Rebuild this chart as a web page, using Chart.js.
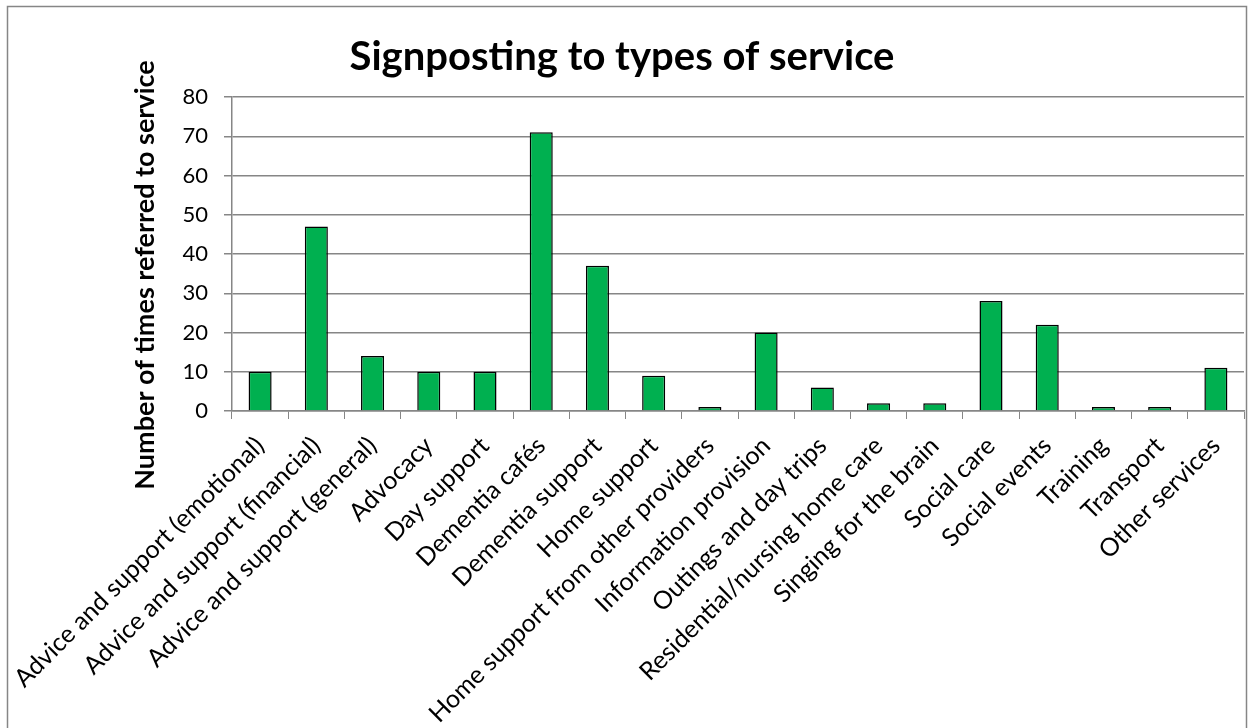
<!DOCTYPE html>
<html>
<head>
<meta charset="utf-8">
<script src="https://cdn.jsdelivr.net/npm/chart.js@4.4.0/dist/chart.umd.min.js"></script>
<style>
    html, body { margin: 0; padding: 0; background: #fff; }
    #wrap { width: 1250px; height: 728px; position: relative; }
</style>
</head>
<body>
<div id="wrap"><canvas id="serviceChart" width="1250" height="728"></canvas></div>
<script>
// Signposting chart data

const categories = [
    'Advice and support (emotional)',
    'Advice and support (financial)',
    'Advice and support (general)',
    'Advocacy',
    'Day support',
    'Dementia cafés',
    'Dementia support',
    'Home support',
    'Home support from other providers',
    'Information provision',
    'Outings and day trips',
    'Residential/nursing home care',
    'Singing for the brain',
    'Social care',
    'Social events',
    'Training',
    'Transport',
    'Other services'
];
const timesReferred = [10, 47, 14, 10, 10, 71, 37, 9, 1, 20, 6, 2, 2, 28, 22, 1, 1, 11];
const yTicks = [0, 10, 20, 30, 40, 50, 60, 70, 80];

const chartTitle = 'Signposting to types of service';
const yAxisTitle = 'Number of times referred to service';
const FONT = 'Lato, "Open Sans", sans-serif';

// frame + rotated y title drawn by hand
const framePlugin = {
    id: 'frame',
    beforeDraw(chart) {
        const ctx = chart.ctx;
        ctx.save();
        ctx.fillStyle = '#fff';
        ctx.fillRect(0, 0, chart.width, chart.height);
        ctx.strokeStyle = '#868686';
        ctx.lineWidth = 1.5;
        ctx.strokeRect(7.5, 6.5, 1239, 740);
        ctx.restore();
    },
    afterDraw(chart) {
        const ctx = chart.ctx;
        ctx.save();
        ctx.translate(145, 275);
        ctx.rotate(-Math.PI / 2);
        ctx.font = 'bold 27px ' + FONT;
        ctx.fillStyle = '#000';
        ctx.textAlign = 'center';
        ctx.textBaseline = 'middle';
        ctx.fillText(yAxisTitle, 0, 0);
        ctx.restore();
    }
};

new Chart(document.getElementById('serviceChart'), {
    type: 'bar',
    data: {
        labels: categories,
        datasets: [{
            data: timesReferred,
            backgroundColor: '#00B050',
            borderColor: '#000',
            borderWidth: 1.5,
            barPercentage: 0.41,
            categoryPercentage: 1
        }]
    },
    options: {
        responsive: false,
        animation: false,
        layout: { padding: { left: 0, right: 6, top: 0, bottom: 0 } },
        plugins: {
            legend: { display: false },
            tooltip: { enabled: false },
            title: {
                display: true,
                text: chartTitle,
                color: '#000',
                font: { family: FONT, size: 40, weight: 'bold', lineHeight: 1.2 },
                padding: { top: 33, bottom: 16 }
            }
        },
        scales: {
            x: {
                grid: {
                    drawOnChartArea: false,
                    drawTicks: true,
                    tickLength: 8,
                    color: '#868686'
                },
                border: { display: true, color: '#868686', width: 1.5 },
                ticks: {
                    color: '#000',
                    font: { family: FONT, size: 25 },
                    maxRotation: 45,
                    minRotation: 45,
                    autoSkip: false,
                    padding: 12
                },
                afterFit(scale) { scale.height = 317; }
            },
            y: {
                min: 0,
                max: 80,
                afterBuildTicks(scale) { scale.ticks = yTicks.map(v => ({ value: v })); },
                grid: {
                    color: '#868686',
                    lineWidth: 1.5,
                    tickLength: 8
                },
                border: { display: true, color: '#868686', width: 1.5 },
                ticks: {
                    color: '#000',
                    font: { family: FONT, size: 22 },
                    padding: 16
                },
                afterFit(scale) { scale.width = 232; }
            }
        }
    },
    plugins: [framePlugin]
});
</script>
</body>
</html>
